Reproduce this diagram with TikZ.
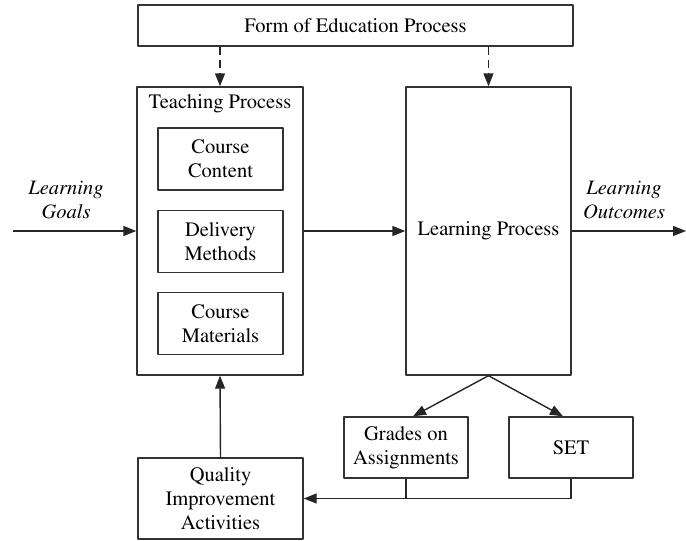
\documentclass[tikz,border=0pt]{standalone}
\usepackage[T1]{fontenc}
\usepackage{mathptmx}
\usetikzlibrary{arrows.meta}
\begin{document}
\begin{tikzpicture}[x=1pt, y=-1pt, line join=round, >={Triangle[length=13pt,width=10pt]},
    font=\rmfamily\fontsize{20.5}{24}\selectfont,
    box/.style={draw=black!80, line width=1.4pt, inner sep=0pt, align=center},
    inbox/.style={box, minimum width=125pt, minimum height=62pt},
    conn/.style={draw=black!85, line width=1.4pt},
    side/.style={align=center, font=\rmfamily\fontsize{20.5}{24}\selectfont\itshape}]
    \useasboundingbox (0,0) rectangle (686,541);
    % top box
    \node[box, minimum width=435pt, minimum height=41pt] (form) at (355.5,25.5) {Form of Education Process};
    % teaching and learning
    \node[box, minimum width=166pt, minimum height=288pt] (teach) at (220,231) {};
    \node (teachlabel) at (220,104) {Teaching Process};
    \node[inbox] (content) at (220.5,159) {Course\\Content};
    \node[inbox] (delivery) at (220.5,241.5) {Delivery\\Methods};
    \node[inbox] (materials) at (220.5,323.5) {Course\\Materials};
    \node[box, minimum width=165pt, minimum height=288pt] (learn) at (488.5,231) {Learning Process};
    % feedback boxes
    \node[box, minimum width=124pt, minimum height=61pt] (grades) at (406,447.5) {Grades on\\Assignments};
    \node[box, minimum width=124pt, minimum height=61pt] (set) at (571,447.5) {SET};
    \node[box, minimum width=165pt, minimum height=81pt] (quality) at (220.5,498.5) {Quality\\Improvement\\Activities};
    % goals and outcomes
    \node[side] (goals) at (66,200) {Learning\\Goals};
    \node[side] (outcomes) at (624,200) {Learning\\Outcomes};
    \coordinate (in) at (13,231);
    \coordinate (out) at (686,231);
    % connectors
    \draw[conn, dashed, dash pattern=on 8pt off 5pt, ->] (teach.north |- form.south) -- (teach.north);
    \draw[conn, dashed, dash pattern=on 8pt off 5pt, ->] (learn.north |- form.south) -- (learn.north);
    \draw[conn, ->] (in) -- (in -| teach.west);
    \draw[conn, ->] (teach.east) -- (learn.west);
    \draw[conn, ->] (learn.east) -- (out);
    \draw[conn, ->] (learn.south) -- ([xshift=7pt]grades.north);
    \draw[conn, ->] (learn.south) -- ([xshift=-8pt]set.north);
    \draw[conn] (grades.south) -- (grades.south |- quality.east);
    \draw[conn, ->] (set.south) |- (quality.east);
    \draw[conn, ->] (quality.north) -- (teach.south);
\end{tikzpicture}
\end{document}
